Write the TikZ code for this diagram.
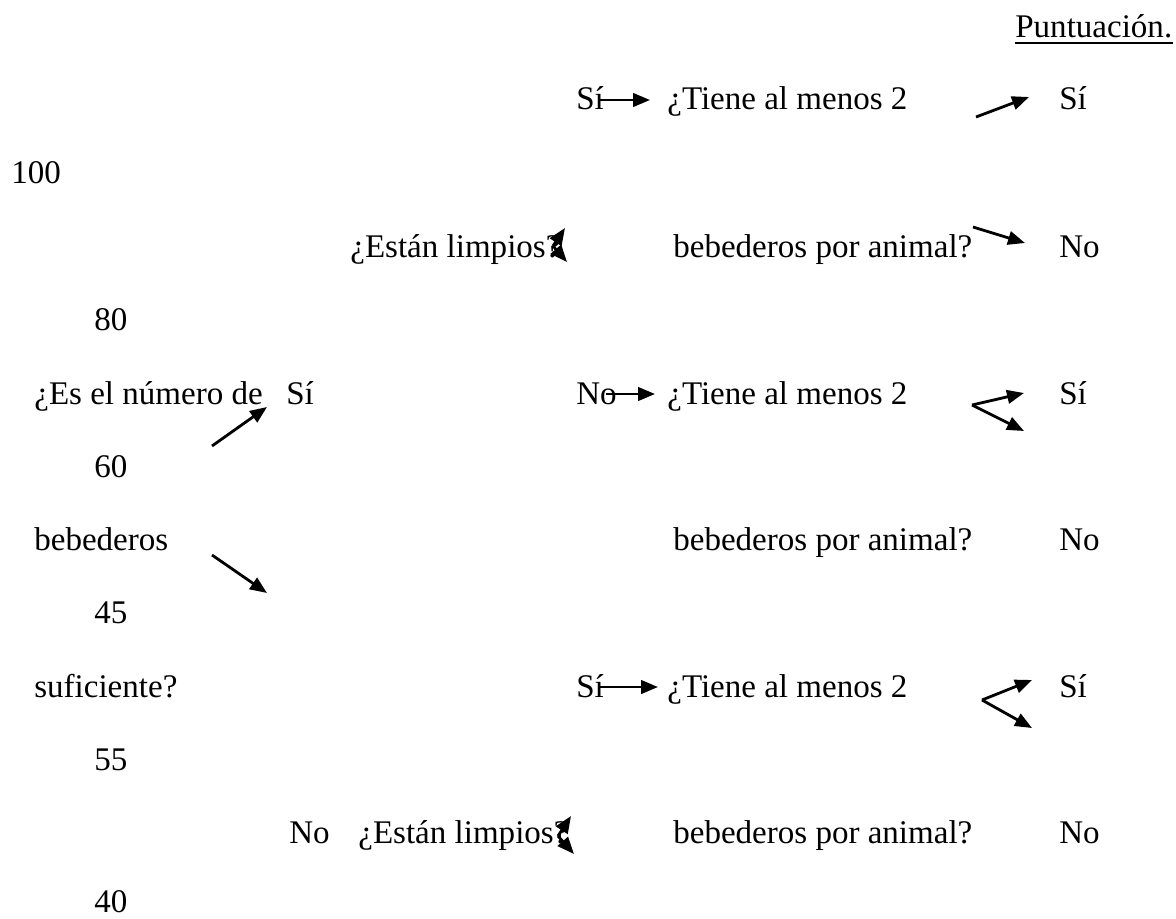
\documentclass[tikz,border=0pt]{standalone}
\usepackage{fontspec}
\setmainfont{Liberation Serif}
\usetikzlibrary{arrows.meta}

\begin{document}
\begin{tikzpicture}[x=0.02cm, y=-0.02cm,
    lbl/.style={anchor=base west, inner sep=0, font=\fontsize{18.8pt}{22pt}\selectfont},
    arr/.style={line width=1.6pt, -{Triangle[length=0.34cm, width=0.27cm]}}]
    \useasboundingbox (0,0) rectangle (1176,919);

    % Heading
    \node[lbl] (head) at (1015,38) {Puntuación.};
    \draw[line width=1pt] ([yshift=-3pt]head.base west) -- ([yshift=-3pt]head.base east);

    % Score column
    \node[lbl] (p100) at (11,183) {100};
    \node[lbl] (p80) at (94,330) {80};
    \node[lbl] (p60) at (94,477) {60};
    \node[lbl] (p45) at (94,623) {45};
    \node[lbl] (p55) at (94,770) {55};
    \node[lbl] (p40) at (94,912) {40};

    % First question (left)
    \node[lbl] (numA) at (34,404) {¿Es el número de};
    \node[lbl] (numB) at (34,550) {bebederos};
    \node[lbl] (numC) at (34,697) {suficiente?};
    \node[lbl] (numYes) at (286,404) {Sí};
    \node[lbl] (numNo) at (289,843) {No};

    % Cleanliness questions
    \node[lbl] (clean1) at (350,257) {¿Están limpios?};
    \node[lbl] (clean2) at (358,843) {¿Están limpios?};
    \node[lbl] (clean1Yes) at (576,110) {Sí};
    \node[lbl] (clean1No) at (576,404) {No};
    \node[lbl] (clean2Yes) at (576,697) {Sí};

    % Drinker questions
    \node[lbl] (drink1a) at (667,110) {¿Tiene al menos 2};
    \node[lbl] (drink1b) at (673,257) {bebederos por animal?};
    \node[lbl] (drink2a) at (667,404) {¿Tiene al menos 2};
    \node[lbl] (drink2b) at (673,550) {bebederos por animal?};
    \node[lbl] (drink3a) at (667,697) {¿Tiene al menos 2};
    \node[lbl] (drink3b) at (673,843) {bebederos por animal?};

    % Answers (right)
    \node[lbl] (ans1Yes) at (1059,110) {Sí};
    \node[lbl] (ans1No) at (1059,257) {No};
    \node[lbl] (ans2Yes) at (1059,404) {Sí};
    \node[lbl] (ans2No) at (1059,550) {No};
    \node[lbl] (ans3Yes) at (1059,697) {Sí};
    \node[lbl] (ans3No) at (1059,843) {No};

    % Arrow ends
    \coordinate (numS1) at (212,446);  \coordinate (numE1) at (267,407);
    \coordinate (numS2) at (212,555);  \coordinate (numE2) at (267,593);
    \coordinate (cl1S) at (553,246);   \coordinate (cl1Up) at (565,228);  \coordinate (cl1Dn) at (567,262);
    \coordinate (cl2S) at (558,836);   \coordinate (cl2Up) at (571,816);  \coordinate (cl2Dn) at (574,854);
    \coordinate (h1S) at (600,100);    \coordinate (h1E) at (650,100);
    \coordinate (h2S) at (606,394);    \coordinate (h2E) at (655,394);
    \coordinate (h3S) at (600,687);    \coordinate (h3E) at (658,687);
    \coordinate (r1S) at (976,117);    \coordinate (r1E) at (1029,97);
    \coordinate (r2S) at (973,227);    \coordinate (r2E) at (1025,243);
    \coordinate (r3S) at (972,405);    \coordinate (r3Up) at (1024,393);  \coordinate (r3Dn) at (1024,431);
    \coordinate (r4S) at (982,700);    \coordinate (r4Up) at (1032,680);  \coordinate (r4Dn) at (1032,728);

    % Arrows
    \draw[arr] (numS1) -- (numE1);
    \draw[arr] (numS2) -- (numE2);
    \draw[arr] (cl1S) -- (cl1Up);
    \draw[arr] (cl1S) -- (cl1Dn);
    \draw[arr] (cl2S) -- (cl2Up);
    \draw[arr] (cl2S) -- (cl2Dn);
    \draw[arr] (h1S) -- (h1E);
    \draw[arr] (h2S) -- (h2E);
    \draw[arr] (h3S) -- (h3E);
    \draw[arr] (r1S) -- (r1E);
    \draw[arr] (r2S) -- (r2E);
    \draw[arr] (r3S) -- (r3Up);
    \draw[arr] (r3S) -- (r3Dn);
    \draw[arr] (r4S) -- (r4Up);
    \draw[arr] (r4S) -- (r4Dn);
\end{tikzpicture}
\end{document}
